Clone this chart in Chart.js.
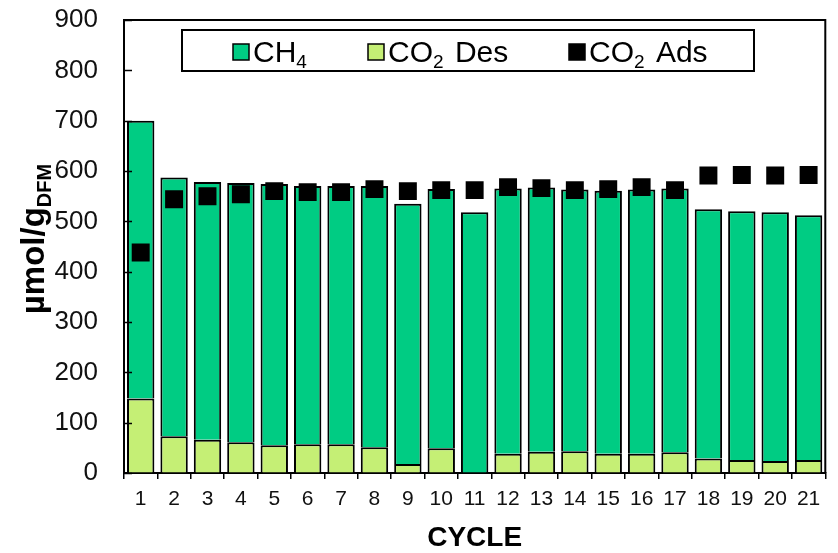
<!DOCTYPE html>
<html>
<head>
<meta charset="utf-8">
<script src="https://cdn.jsdelivr.net/npm/chart.js@4/dist/chart.umd.min.js"></script>
<style>
  html, body { margin: 0; padding: 0; background: #fff; }
  #wrap { width: 838px; height: 553px; }
</style>
</head>
<body>
<div id="wrap"><canvas id="c" width="838" height="553"></canvas></div>
<script>
// Cycle numbers
const cycles = ['1','2','3','4','5','6','7','8','9','10','11','12','13','14','15','16','17','18','19','20','21'];
// CO2 desorbed (µmol/g DFM), bottom of each stack
const co2Des = [148, 73, 66, 61, 55, 57, 57, 51, 18, 49, 0, 38, 42, 43, 38, 38, 41, 29, 26, 24, 26];
// CH4 produced (µmol/g DFM), stacked on top of CO2 desorbed
const ch4 = [552, 514, 512, 515, 519, 513, 513, 519, 517, 515, 518, 527, 525, 520, 523, 525, 524, 495, 494, 494, 486];
// CO2 adsorbed (µmol/g DFM)
const co2Ads = [438, 544, 550, 554, 560, 558, 558, 564, 560, 562, 562, 568, 566, 562, 564, 568, 562, 591, 592, 591, 592];
// Y axis range
const yMin = 0, yMax = 900, yStep = 100;

const FONT = "'Liberation Sans', Arial, Helvetica, sans-serif";
const C_CH4 = '#00CC83';
const C_DES = '#C5EF75';

// Draws "base" text followed by a lowered smaller suffix (chemical subscripts)
function drawSub(ctx, x, y, base, sub, size, subSize, bold, drop) {
  const w = bold ? 'bold ' : '';
  ctx.font = w + size + 'px ' + FONT;
  ctx.fillText(base, x, y);
  let bw = ctx.measureText(base).width;
  if (sub) {
    ctx.font = w + subSize + 'px ' + FONT;
    ctx.fillText(sub, x + bw, y + drop);
    bw += ctx.measureText(sub).width;
  }
  return bw;
}

const decorations = {
  id: 'decorations',
  afterDatasetsDraw(chart) {
    const ctx = chart.ctx;
    const a = chart.chartArea;
    const y = chart.scales.y;
    ctx.save();
    ctx.strokeStyle = '#000';
    // frame: top and right edges
    ctx.lineWidth = 2;
    ctx.beginPath();
    ctx.moveTo(a.left, a.top);
    ctx.lineTo(a.right, a.top);
    ctx.lineTo(a.right, a.bottom);
    ctx.stroke();
    // inward tick marks on the value axis
    ctx.lineWidth = 1.5;
    y.ticks.forEach(t => {
      const py = Math.round(y.getPixelForValue(t.value)) + 0.5;
      ctx.beginPath();
      ctx.moveTo(a.left, py);
      ctx.lineTo(a.left + 8, py);
      ctx.stroke();
    });

    // legend box
    const bx = 182, by = 30, bw = 572, bh = 41;
    ctx.fillStyle = '#fff';
    ctx.fillRect(bx, by, bw, bh);
    ctx.lineWidth = 2;
    ctx.strokeRect(bx, by, bw, bh);
    ctx.textBaseline = 'alphabetic';
    ctx.textAlign = 'left';
    const items = [
      { x: 233, color: C_CH4, base: 'CH', sub: '4', rest: '' },
      { x: 368, color: C_DES, base: 'CO', sub: '2', rest: ' Des' },
      { x: 569, color: '#000', base: 'CO', sub: '2', rest: ' Ads' }
    ];
    items.forEach(it => {
      ctx.fillStyle = it.color;
      ctx.fillRect(it.x, 44, 16, 16);
      ctx.lineWidth = 1.5;
      ctx.strokeRect(it.x, 44, 16, 16);
      ctx.fillStyle = '#000';
      let tx = it.x + 20;
      tx += drawSub(ctx, tx, 62, it.base, it.sub, 30, 19, false, 6);
      if (it.rest) {
        ctx.font = '30px ' + FONT;
        ctx.fillText(it.rest, tx + 3, 62);
      }
    });

    // x axis title
    ctx.fillStyle = '#000';
    ctx.textAlign = 'center';
    ctx.textBaseline = 'middle';
    ctx.font = 'bold 28px ' + FONT;
    ctx.fillText('CYCLE', (a.left + a.right) / 2, 538);

    // y axis title, rotated
    ctx.save();
    ctx.translate(44, 239);
    ctx.rotate(-Math.PI / 2);
    ctx.textAlign = 'left';
    ctx.textBaseline = 'alphabetic';
    ctx.font = 'bold 33px ' + FONT;
    const w1 = ctx.measureText('µmol/g').width;
    ctx.font = 'bold 20px ' + FONT;
    const w2 = ctx.measureText('DFM').width;
    drawSub(ctx, -(w1 + w2) / 2, 0, 'µmol/g', 'DFM', 33, 20, true, 7);
    ctx.restore();

    ctx.restore();
  }
};

new Chart(document.getElementById('c'), {
  data: {
    labels: cycles,
    datasets: [
      {
        type: 'line',
        label: 'CO2 Ads',
        data: co2Ads,
        showLine: false,
        pointStyle: 'rect',
        pointRadius: 12.7,
        pointHoverRadius: 12.7,
        pointBackgroundColor: '#000',
        pointBorderColor: '#000',
        pointBorderWidth: 0,
        stack: 'ads',
        order: 0
      },
      {
        type: 'bar',
        label: 'CO2 Des',
        data: co2Des,
        backgroundColor: C_DES,
        borderColor: '#000',
        borderWidth: 2,
        stack: 'bars',
        order: 1
      },
      {
        type: 'bar',
        label: 'CH4',
        data: ch4,
        backgroundColor: C_CH4,
        borderColor: '#000',
        borderWidth: 2,
        stack: 'bars',
        order: 1
      }
    ]
  },
  options: {
    responsive: false,
    animation: false,
    events: [],
    layout: { padding: { left: 0, right: 2, top: 20, bottom: 0 } },
    datasets: { bar: { barPercentage: 0.82, categoryPercentage: 1 } },
    plugins: { legend: { display: false }, tooltip: { enabled: false } },
    scales: {
      x: {
        type: 'category',
        stacked: true,
        offset: true,
        grid: { offset: true, drawOnChartArea: false, drawTicks: true, tickLength: 6, color: '#000', lineWidth: 1.5 },
        border: { color: '#000', width: 2 },
        ticks: { font: { family: FONT, size: 21 }, color: '#111', padding: 8, maxRotation: 0, autoSkip: false },
        afterFit(s) { s.height = 553 - 473; }
      },
      y: {
        stacked: true,
        min: yMin,
        max: yMax,
        grid: { drawOnChartArea: false, drawTicks: true, tickLength: 26, tickColor: 'rgba(0,0,0,0)', color: '#000' },
        border: { color: '#000', width: 2 },
        ticks: { stepSize: yStep, font: { family: FONT, size: 26 }, color: '#111', padding: 0 },
        afterFit(s) { s.width = 124; }
      }
    }
  },
  plugins: [decorations]
});
</script>
</body>
</html>
